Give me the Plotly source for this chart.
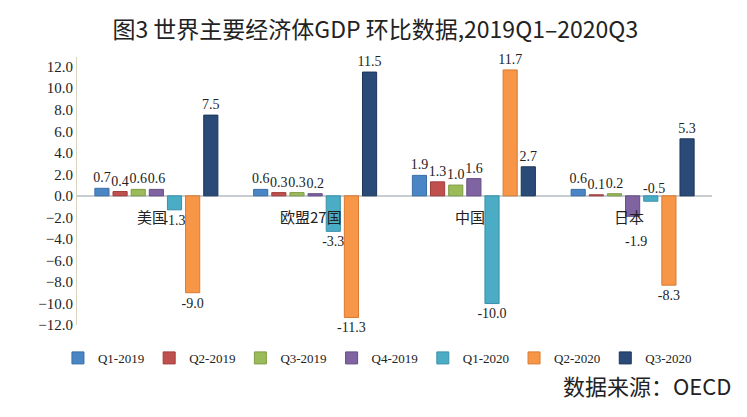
import plotly.graph_objects as go

regions = ["美国", "欧盟27国", "中国", "日本"]
quarters = ["Q1-2019", "Q2-2019", "Q3-2019", "Q4-2019", "Q1-2020", "Q2-2020", "Q3-2020"]

q1_2019 = [0.7, 0.6, 1.9, 0.6]
q2_2019 = [0.4, 0.3, 1.3, 0.1]
q3_2019 = [0.6, 0.3, 1.0, 0.2]
q4_2019 = [0.6, 0.2, 1.6, -1.9]
q1_2020 = [-1.3, -3.3, -10.0, -0.5]
q2_2020 = [-9.0, -11.3, 11.7, -8.3]
q3_2020 = [7.5, 11.5, 2.7, 5.3]

series = [q1_2019, q2_2019, q3_2019, q4_2019, q1_2020, q2_2020, q3_2020]
colors = ["#4a86c5", "#c0504d", "#9bbb59", "#8064a2", "#4bacc6", "#f79646", "#2a4a78"]
lines = ["#3a6ea5", "#a03c3a", "#7f9c45", "#634d85", "#3a90a8", "#d97a32", "#1c3558"]

# labels that were moved by hand in the original (Japan Q4-2019 and Q1-2020)
moved = {(3, 3): -25, (4, 3): 13}

fig = go.Figure()
for i, (name, vals, c, lc) in enumerate(zip(quarters, series, colors, lines)):
    txt = ["" if (i, j) in moved else f"{v:.1f}" for j, v in enumerate(vals)]
    fig.add_trace(go.Bar(
        x=regions, y=vals, name=name,
        marker=dict(color=c, line=dict(color=lc, width=1)),
        text=txt, textposition="outside",
        constraintext="none", cliponaxis=False,
        textfont=dict(family="Liberation Serif", size=14, color="#222"),
    ))

slot = 0.8 * 635 / 4 / 7
for (i, j), ys in moved.items():
    fig.add_annotation(x=regions[j], y=series[i][j], xref="x", yref="y",
                       xshift=(i - 3) * slot + 3, yshift=ys, text=f"{series[i][j]:.1f}", showarrow=False,
                       font=dict(family="Liberation Serif", size=14, color="#222"))

for r in regions:
    fig.add_annotation(x=r, y=0, xref="x", yref="y", yshift=-21, xshift=-4, text=r,
                       showarrow=False, font=dict(family="Noto Sans CJK SC", size=15, color="#222"))

fig.add_annotation(x=1.033, y=-0.225, xref="paper", yref="paper", xanchor="right", yanchor="middle",
                   text="数据来源：OECD", showarrow=False,
                   font=dict(family="Noto Sans CJK SC", size=22, color="#222"))

# the page adds 8px around the figure, so the figure is 8px smaller than the window
fig.update_layout(
    width=739, height=409,
    title=dict(text="图3 世界主要经济体GDP 环比数据,2019Q1–2020Q3", x=0.497, xanchor="center",
               y=0.946, yanchor="middle",
               font=dict(family="Noto Sans CJK SC", size=23, color="#222")),
    barmode="group", bargap=0.2, bargroupgap=0.22,
    plot_bgcolor="white", paper_bgcolor="white",
    margin=dict(l=69, r=35, t=49, b=92),
    showlegend=True,
    legend=dict(orientation="h", x=-0.03, xanchor="left", y=-0.123, yanchor="middle",
                font=dict(family="Liberation Serif", size=13, color="#222"),
                itemwidth=30, traceorder="normal"),
)
fig.update_xaxes(showticklabels=False, showline=False, showgrid=False, zeroline=False)
fig.update_yaxes(range=[-12, 12.9], tickvals=list(range(-12, 13, 2)), tickformat=".1f",
                 showgrid=False, showline=True, linecolor="#d8d4c0", linewidth=1,
                 zeroline=True, zerolinecolor="#c8cdd2", zerolinewidth=1.5,
                 tickfont=dict(family="Liberation Serif", size=15, color="#222"), ticks="")

fig.write_html("out.html")
